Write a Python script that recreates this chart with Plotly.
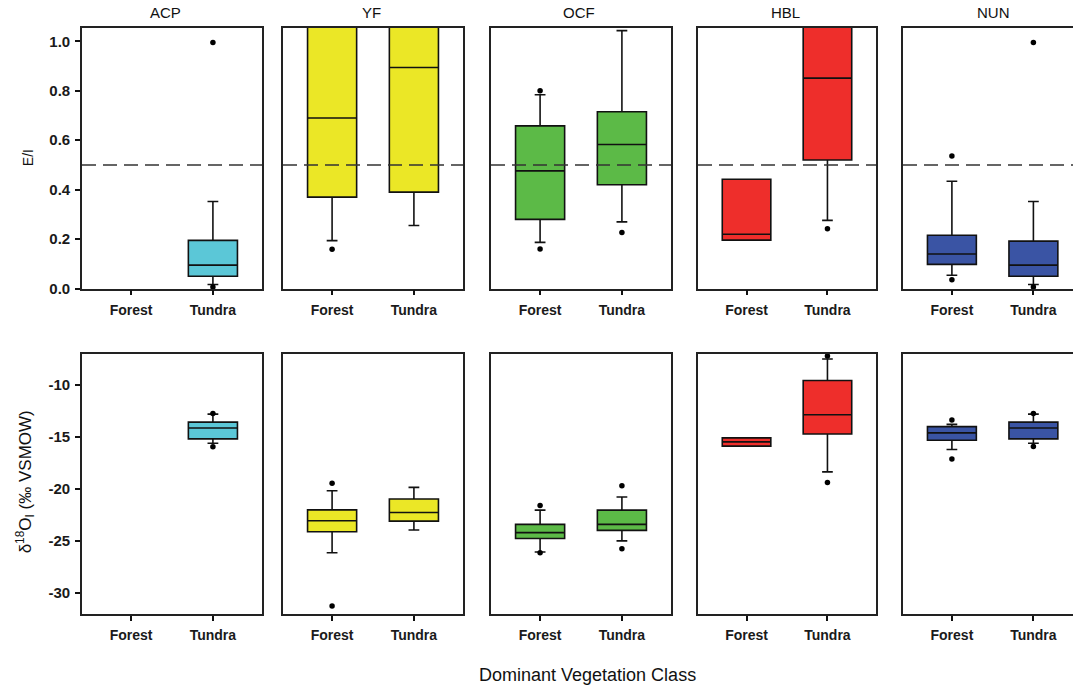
import plotly.graph_objects as go

regions = ["ACP", "YF", "OCF", "HBL", "NUN"]
colors = ["#5bc7d7", "#ebe726", "#5cba47", "#ee2e2b", "#3a54a4"]
categories = ["Forest", "Tundra"]

# E/I (top row); None = no data for that class
ei_q1 = [[None, 0.05], [0.37, 0.39], [0.28, 0.42], [0.196, 0.52], [0.098, 0.05]]
ei_median = [[None, 0.095], [0.69, 0.894], [0.476, 0.583], [0.22, 0.851], [0.14, 0.095]]
ei_q3 = [[None, 0.195], [1.10, 1.10], [0.658, 0.715], [0.442, 1.10], [0.216, 0.192]]
ei_low = [[None, 0.017], [0.194, 0.255], [0.187, 0.27], [0.196, 0.276], [0.054, 0.017]]
ei_high = [[None, 0.352], [1.10, 1.10], [0.784, 1.043], [0.442, 1.10], [0.434, 0.352]]
ei_out_forest = [[], [0.159], [0.80, 0.16], [], [0.536, 0.036]]
ei_out_tundra = [[0.995, 0.007], [], [0.227], [0.242], [0.995, 0.007]]

# d18O_I (bottom row)
d_q1 = [[None, -15.17], [-24.1, -23.08], [-24.76, -23.97], [-15.87, -14.7], [-15.3, -15.17]]
d_median = [[None, -14.13], [-23.05, -22.25], [-24.19, -23.4], [-15.46, -12.86], [-14.6, -14.13]]
d_q3 = [[None, -13.56], [-22.0, -20.95], [-23.4, -22.03], [-15.08, -9.56], [-14.0, -13.56]]
d_low = [[None, -15.59], [-26.13, -23.94], [-26.06, -24.98], [-15.87, -18.35], [-16.19, -15.59]]
d_high = [[None, -12.79], [-20.16, -19.84], [-22.03, -20.76], [-15.08, -7.49], [-13.78, -12.79]]
d_out_forest = [[], [-19.43, -31.24], [-21.59, -26.13], [], [-13.37, -17.11]]
d_out_tundra = [[-12.73, -15.94], [], [-19.68, -25.75], [-7.2, -19.37], [-12.73, -15.9]]

ei_ticks = [0.0, 0.2, 0.4, 0.6, 0.8, 1.0]
ei_ticktext = ["0.0", "0.2", "0.4", "0.6", "0.8", "1.0"]
d_ticks = [-30, -25, -20, -15, -10]
d_ticktext = ["-30", "-25", "-20", "-15", "-10"]
threshold = 0.5

W, H = 1073, 694
px_left = [82, 283, 491, 698, 903]
px_right = [262, 463, 671, 876, 1073]
top_row = (28, 292)
bot_row = (358, 621)


def fx(px):
    return px / W


def fy(py):
    return 1 - py / H


FONT = "Liberation Sans, Arial, sans-serif"
fig = go.Figure()
layout = {}


def add_panel(row, col, q1, med, q3, lo, hi, outf, outt):
    n = row * 5 + col + 1
    xa = "x" if n == 1 else f"x{n}"
    ya = "y" if n == 1 else f"y{n}"
    xs, a, b, c, d, e = [], [], [], [], [], []
    for i in range(2):
        if q1[i] is None:
            continue
        xs.append(i); a.append(q1[i]); b.append(med[i]); c.append(q3[i]); d.append(lo[i]); e.append(hi[i])
    fig.add_trace(go.Box(x=xs, q1=a, median=b, q3=c, lowerfence=d, upperfence=e,
                         width=0.6, whiskerwidth=0.22, fillcolor=colors[col],
                         line=dict(color="#111111", width=1.6), boxpoints=False,
                         showlegend=False, xaxis=xa, yaxis=ya, hoverinfo="skip"))
    ox = [0] * len(outf) + [1] * len(outt)
    oy = list(outf) + list(outt)
    if oy:
        fig.add_trace(go.Scatter(x=ox, y=oy, mode="markers",
                                 marker=dict(color="black", size=5.5),
                                 showlegend=False, xaxis=xa, yaxis=ya,
                                 cliponaxis=False, hoverinfo="skip"))
    yr = top_row if row == 0 else bot_row
    xname = "xaxis" if n == 1 else f"xaxis{n}"
    yname = "yaxis" if n == 1 else f"yaxis{n}"
    if col == 4:
        xr = [-0.6, -0.6 + (px_right[col] - px_left[col]) / 81.5]
    else:
        xr = [-0.6, 1.6]
    layout[xname] = dict(domain=[fx(px_left[col]), fx(px_right[col])], range=xr,
                         anchor=ya, tickvals=[0, 1], ticktext=categories,
                         ticks="outside", ticklen=5, tickwidth=1.5, tickcolor="#111",
                         ticklabelstandoff=3,
                         showline=True, linecolor="#222", linewidth=1.6, mirror=True,
                         showgrid=False, zeroline=False,
                         tickfont=dict(family=FONT, size=14, color="#1a1a1a", weight="bold"))
    if row == 0:
        yrange = [0, 1.055]
        tv, tt = ei_ticks, ei_ticktext
    else:
        yrange = [-32, -7]
        tv, tt = d_ticks, d_ticktext
    layout[yname] = dict(domain=[fy(yr[1]), fy(yr[0])], range=yrange,
                         anchor=xa, showline=True, linecolor="#222", linewidth=1.6,
                         mirror=(col != 4), showgrid=False, zeroline=False,
                         tickvals=tv, ticktext=tt,
                         ticks="outside" if col == 0 else "", ticklen=5, tickwidth=1.5,
                         tickcolor="#111", showticklabels=(col == 0),
                         ticklabelstandoff=2,
                         tickfont=dict(family=FONT, size=15, color="#1a1a1a", weight="bold"))
    if row == 0:
        fig.add_shape(type="line", xref=f"{xa} domain", yref=ya, x0=0, x1=1,
                      y0=threshold, y1=threshold,
                      line=dict(color="#333", width=1.6, dash="14px,7px"))


for col in range(5):
    add_panel(0, col, ei_q1[col], ei_median[col], ei_q3[col], ei_low[col], ei_high[col],
              ei_out_forest[col], ei_out_tundra[col])
    add_panel(1, col, d_q1[col], d_median[col], d_q3[col], d_low[col], d_high[col],
              d_out_forest[col], d_out_tundra[col])

annotations = []
title_cx = [165, 371, 579, 785, 993]
for col, name in enumerate(regions):
    annotations.append(dict(text=name, x=fx(title_cx[col]), y=fy(13), xref="paper", yref="paper",
                            showarrow=False, xanchor="center", yanchor="middle",
                            font=dict(family=FONT, size=15, color="#111")))
annotations.append(dict(text="E/I", x=fx(28), y=fy(160), xref="paper", yref="paper",
                        showarrow=False, textangle=-90, xanchor="center", yanchor="middle",
                        font=dict(family=FONT, size=14, color="#111")))
annotations.append(dict(text="δ<sup>18</sup>O<sub>I</sub> (‰ VSMOW)", x=fx(25), y=fy(488),
                        xref="paper", yref="paper", showarrow=False, textangle=-90,
                        xanchor="center", yanchor="middle",
                        font=dict(family=FONT, size=17, color="#111")))
annotations.append(dict(text="Dominant Vegetation Class", x=fx(587), y=fy(683),
                        xref="paper", yref="paper", showarrow=False,
                        xanchor="center", yanchor="middle",
                        font=dict(family=FONT, size=18, color="#111")))

fig.update_layout(width=W, height=H, margin=dict(l=0, r=0, t=0, b=0),
                  paper_bgcolor="white", plot_bgcolor="white",
                  annotations=annotations, **layout)
post = ("var d=document.documentElement,b=document.body;"
        "d.style.margin='0';d.style.padding='0';b.style.margin='0';b.style.padding='0';"
        "d.style.height='694px';b.style.height='694px';"
        "d.style.overflow='hidden';b.style.overflow='hidden';")
fig.write_html("out.html", post_script=post, config={"displayModeBar": False})
